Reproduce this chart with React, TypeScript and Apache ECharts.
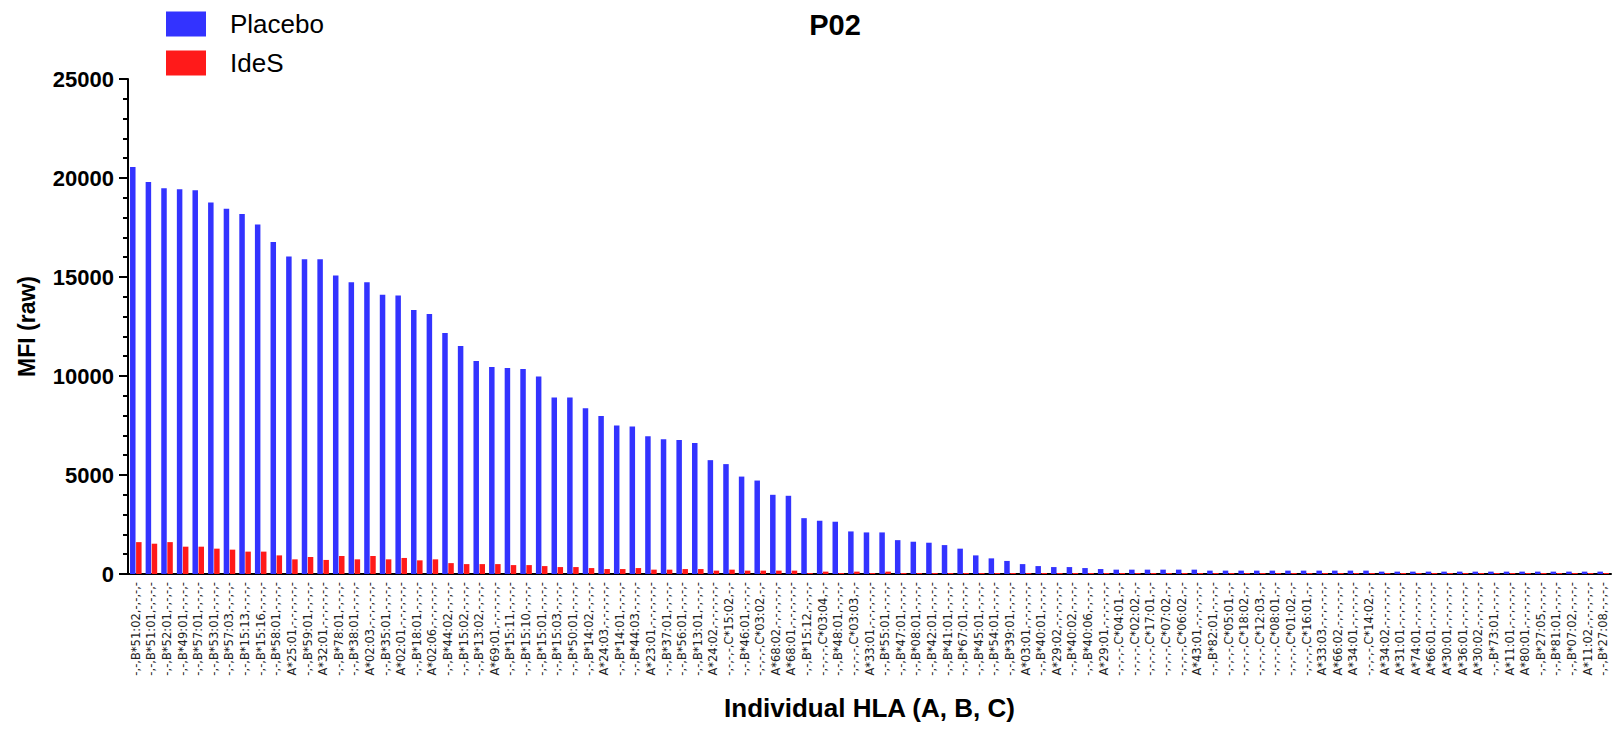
import React, { useEffect, useRef } from "react";
import * as echarts from "echarts";

const categories = [
  "-,-,B*51:02,-,-,-,-", "-,-,B*51:01,-,-,-,-", "-,-,B*52:01,-,-,-,-", "-,-,B*49:01,-,-,-,-", "-,-,B*57:01,-,-,-,-",
  "-,-,B*53:01,-,-,-,-", "-,-,B*57:03,-,-,-,-", "-,-,B*15:13,-,-,-,-", "-,-,B*15:16,-,-,-,-", "-,-,B*58:01,-,-,-,-",
  "A*25:01,-,-,-,-,-,-", "-,-,B*59:01,-,-,-,-", "A*32:01,-,-,-,-,-,-", "-,-,B*78:01,-,-,-,-", "-,-,B*38:01,-,-,-,-",
  "A*02:03,-,-,-,-,-,-", "-,-,B*35:01,-,-,-,-", "A*02:01,-,-,-,-,-,-", "-,-,B*18:01,-,-,-,-", "A*02:06,-,-,-,-,-,-",
  "-,-,B*44:02,-,-,-,-", "-,-,B*15:02,-,-,-,-", "-,-,B*13:02,-,-,-,-", "A*69:01,-,-,-,-,-,-", "-,-,B*15:11,-,-,-,-",
  "-,-,B*15:10,-,-,-,-", "-,-,B*15:01,-,-,-,-", "-,-,B*15:03,-,-,-,-", "-,-,B*50:01,-,-,-,-", "-,-,B*14:02,-,-,-,-",
  "A*24:03,-,-,-,-,-,-", "-,-,B*14:01,-,-,-,-", "-,-,B*44:03,-,-,-,-", "A*23:01,-,-,-,-,-,-", "-,-,B*37:01,-,-,-,-",
  "-,-,B*56:01,-,-,-,-", "-,-,B*13:01,-,-,-,-", "A*24:02,-,-,-,-,-,-", "-,-,-,-,C*15:02,-,-", "-,-,B*46:01,-,-,-,-",
  "-,-,-,-,C*03:02,-,-", "A*68:02,-,-,-,-,-,-", "A*68:01,-,-,-,-,-,-", "-,-,B*15:12,-,-,-,-", "-,-,-,-,C*03:04,-,-",
  "-,-,B*48:01,-,-,-,-", "-,-,-,-,C*03:03,-,-", "A*33:01,-,-,-,-,-,-", "-,-,B*55:01,-,-,-,-", "-,-,B*47:01,-,-,-,-",
  "-,-,B*08:01,-,-,-,-", "-,-,B*42:01,-,-,-,-", "-,-,B*41:01,-,-,-,-", "-,-,B*67:01,-,-,-,-", "-,-,B*45:01,-,-,-,-",
  "-,-,B*54:01,-,-,-,-", "-,-,B*39:01,-,-,-,-", "A*03:01,-,-,-,-,-,-", "-,-,B*40:01,-,-,-,-", "A*29:02,-,-,-,-,-,-",
  "-,-,B*40:02,-,-,-,-", "-,-,B*40:06,-,-,-,-", "A*29:01,-,-,-,-,-,-", "-,-,-,-,C*04:01,-,-", "-,-,-,-,C*02:02,-,-",
  "-,-,-,-,C*17:01,-,-", "-,-,-,-,C*07:02,-,-", "-,-,-,-,C*06:02,-,-", "A*43:01,-,-,-,-,-,-", "-,-,B*82:01,-,-,-,-",
  "-,-,-,-,C*05:01,-,-", "-,-,-,-,C*18:02,-,-", "-,-,-,-,C*12:03,-,-", "-,-,-,-,C*08:01,-,-", "-,-,-,-,C*01:02,-,-",
  "-,-,-,-,C*16:01,-,-", "A*33:03,-,-,-,-,-,-", "A*66:02,-,-,-,-,-,-", "A*34:01,-,-,-,-,-,-", "-,-,-,-,C*14:02,-,-",
  "A*34:02,-,-,-,-,-,-", "A*31:01,-,-,-,-,-,-", "A*74:01,-,-,-,-,-,-", "A*66:01,-,-,-,-,-,-", "A*30:01,-,-,-,-,-,-",
  "A*36:01,-,-,-,-,-,-", "A*30:02,-,-,-,-,-,-", "-,-,B*73:01,-,-,-,-", "A*11:01,-,-,-,-,-,-", "A*80:01,-,-,-,-,-,-",
  "-,-,B*27:05,-,-,-,-", "-,-,B*81:01,-,-,-,-", "-,-,B*07:02,-,-,-,-", "A*11:02,-,-,-,-,-,-", "-,-,B*27:08,-,-,-,-",
];

const placebo = [
  20550, 19800, 19480, 19430, 19380, 18760, 18450, 18180, 17650, 16770,
  16030, 15900, 15900, 15080, 14740, 14740, 14100, 14070, 13330, 13130,
  12170, 11510, 10760, 10450, 10400, 10350, 9970, 8910, 8910, 8370,
  7980, 7500, 7450, 6960, 6810, 6770, 6610, 5750, 5550, 4920,
  4720, 4000, 3950, 2820, 2690, 2640, 2150, 2100, 2100, 1710,
  1630, 1580, 1460, 1280, 940, 790, 660, 500, 400, 350,
  350, 300, 250, 220, 220, 220, 220, 220, 220, 170,
  170, 170, 170, 170, 170, 170, 170, 170, 170, 170,
  120, 120, 120, 120, 120, 120, 120, 120, 120, 120,
  120, 120, 120, 120, 120,
];

const ides = [
  1610, 1530, 1610, 1380, 1380, 1280, 1230, 1130, 1130, 940,
  740, 860, 710, 910, 740, 910, 740, 810, 690, 740,
  550, 500, 500, 500, 450, 450, 400, 350, 350, 300,
  250, 250, 300, 220, 220, 250, 250, 170, 220, 170,
  170, 170, 170, 50, 120, 50, 120, 50, 120, 50,
  50, 50, 50, 50, 50, 50, 50, 50, 50, 50,
  50, 50, 50, 50, 50, 50, 50, 50, 50, 50,
  50, 50, 50, 50, 50, 50, 50, 50, 50, 50,
  50, 50, 50, 50, 50, 50, 50, 50, 50, 50,
  50, 50, 50, 50, 50,
];

const seriesNames = ["Placebo", "IdeS"];
const seriesColors = ["#3333FF", "#FF1A1A"];

const FONT = "'Liberation Sans', Arial, sans-serif";

export default function App() {
  const ref = useRef<HTMLDivElement>(null);

  useEffect(() => {
    if (!ref.current) return;
    const chart = echarts.init(ref.current, null, { renderer: "svg" });
    chart.setOption({
      animation: false,
      backgroundColor: "#FFFFFF",
      textStyle: { fontFamily: FONT },
      title: {
        text: "P02",
        left: 830,
        top: 5,
        textAlign: "center",
        textStyle: { fontFamily: FONT, fontSize: 29, fontWeight: "bold", color: "#000" },
      },
      legend: {
        orient: "vertical",
        left: 161,
        top: 6,
        itemWidth: 40,
        itemHeight: 25,
        itemGap: 13,
        icon: "rect",
        data: seriesNames,
        textStyle: { fontFamily: FONT, fontSize: 26, color: "#000", padding: [0, 0, 0, 19] },
      },
      grid: { left: 128, right: 2, top: 79, bottom: 156, containLabel: false },
      xAxis: {
        type: "category",
        data: categories,
        name: "Individual HLA (A, B, C)",
        nameLocation: "middle",
        nameGap: 121,
        nameTextStyle: { fontFamily: FONT, fontSize: 26, fontWeight: "bold", color: "#000" },
        axisLine: { lineStyle: { color: "#000", width: 2 } },
        axisTick: { alignWithLabel: true, length: 5, lineStyle: { color: "#000", width: 2 } },
        axisLabel: {
          interval: 0,
          rotate: 90,
          margin: 8,
          fontFamily: "'DejaVu Sans', sans-serif",
          fontSize: 11.5,
          color: "#222",
        },
        splitLine: { show: false },
      },
      yAxis: {
        type: "value",
        min: 0,
        max: 25000,
        interval: 5000,
        name: "MFI (raw)",
        nameLocation: "middle",
        nameGap: 90,
        nameRotate: 90,
        nameTextStyle: { fontFamily: FONT, fontSize: 23, fontWeight: "bold", color: "#000" },
        axisLine: { show: true, lineStyle: { color: "#000", width: 2 } },
        axisTick: { show: true, length: 9, lineStyle: { color: "#000", width: 2 } },
        minorTick: { show: true, splitNumber: 5, length: 5, lineStyle: { color: "#000", width: 2 } },
        axisLabel: {
          margin: 14,
          fontFamily: FONT,
          fontSize: 22,
          fontWeight: "bold",
          color: "#000",
          formatter: (v: number) => String(v),
        },
        splitLine: { show: false },
        minorSplitLine: { show: false },
      },
      series: [
        {
          name: seriesNames[0],
          type: "bar",
          data: placebo,
          barWidth: 5.5,
          barGap: "10%",
          itemStyle: { color: seriesColors[0] },
        },
        {
          name: seriesNames[1],
          type: "bar",
          data: ides,
          barWidth: 5.5,
          barGap: "10%",
          itemStyle: { color: seriesColors[1] },
        },
      ],
    });
    return () => chart.dispose();
  }, []);

  return (
    <div
      ref={ref}
      style={{ position: "absolute", left: 0, top: 0, width: 1613, height: 730 }}
    />
  );
}
